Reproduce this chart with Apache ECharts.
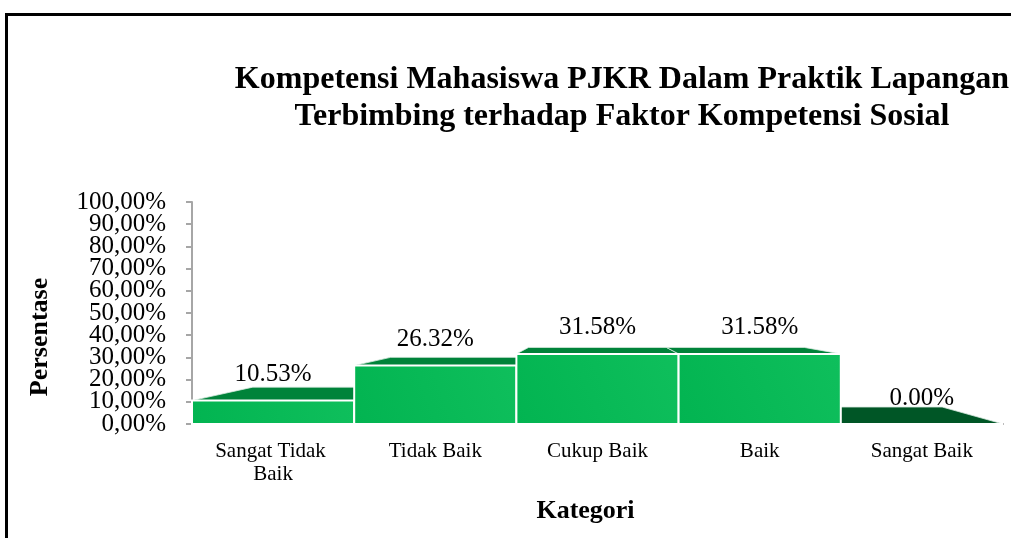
<!DOCTYPE html>
<html>
<head>
<meta charset="utf-8">
<script src="https://cdn.jsdelivr.net/npm/echarts@6/dist/echarts.min.js"></script>
<style>
  html, body { margin: 0; padding: 0; background: #fff; }
  #chart { width: 1011px; height: 538px; }
</style>
</head>
<body>
<div id="chart"></div>
<script>
// data
var categories = ['Sangat Tidak Baik', 'Tidak Baik', 'Cukup Baik', 'Baik', 'Sangat Baik'];
var values = [10.53, 26.32, 31.58, 31.58, 0.00];
var yMin = 0, yMax = 100, yStep = 10;
// tick labels split over two axes so the tight 25px labels are not culled
var yLabelsEven = [0, 20, 40, 60, 80, 100];
var yLabelsOdd = [10, 30, 50, 70, 90];

var serif = 'Liberation Serif, Times New Roman, serif';
var DEPTH = 0.85; // how much the back edge shrinks toward the vanishing point

function renderBar(params, api) {
	var idx = api.value(0);
	var v = api.value(1);
	var p0 = api.coord([idx, 0]);
	var p1 = api.coord([idx, v]);
	var band = api.size([1, 0])[0];
	var x0 = p0[0] - band / 2, x1 = p0[0] + band / 2;
	var yB = p0[1], yT = p1[1];
	var vp = api.coord([2, 51]);
	function back(x, y) {
		return [vp[0] + (x - vp[0]) * DEPTH, vp[1] + (y - vp[1]) * DEPTH];
	}
	var topColor = v === 0 ? '#005626' : '#00833a';
	return {
		type : 'group',
		children : [ {
			type : 'polygon',
			z2 : 1,
			shape : { points : [ [x0, yT], [x1, yT], back(x1, yT), back(x0, yT) ] },
			style : { fill : topColor, stroke : '#d8eadf', lineWidth : 0.8 }
		}, {
			type : 'rect',
			z2 : 10,
			shape : { x : x0, y : yT, width : band, height : yB - yT },
			style : {
				fill : new echarts.graphic.LinearGradient(0, 1, 1, 0, [
					{ offset : 0, color : '#02b451' },
					{ offset : 1, color : '#0fbf5c' } ]),
				stroke : '#ffffff',
				lineWidth : 2
			}
		}, {
			type : 'text',
			z2 : 20,
			style : {
				text : v.toFixed(2) + '%',
				x : p0[0],
				y : yT - 26,
				align : 'center',
				verticalAlign : 'middle',
				font : '25px ' + serif,
				fill : '#000'
			}
		} ]
	};
}

function pctLabel(v) {
	return v.toFixed(2).replace('.', ',') + '%';
}

var yLabelStyle = {
	margin : 26,
	fontFamily : serif,
	fontSize : 25,
	color : '#000',
	formatter : pctLabel
};

var chart = echarts.init(document.getElementById('chart'));
chart.setOption({
	animation : false,
	grid : {
		left : 192,
		right : 8,
		top : 202,
		bottom : 114
	},
	graphic : [ {
		type : 'rect',
		shape : { x : 6.5, y : 14.5, width : 1200, height : 700 },
		style : { fill : 'none', stroke : '#000', lineWidth : 3 }
	}, {
		type : 'text',
		x : 622,
		y : 61,
		style : {
			text : 'Kompetensi Mahasiswa PJKR Dalam Praktik Lapangan\nTerbimbing terhadap Faktor Kompetensi Sosial',
			align : 'center',
			verticalAlign : 'top',
			font : 'bold 32px ' + serif,
			lineHeight : 37,
			fill : '#000'
		}
	}, {
		type : 'text',
		x : 40,
		y : 337,
		rotation : Math.PI / 2,
		style : {
			text : 'Persentase',
			align : 'center',
			verticalAlign : 'middle',
			font : 'bold 26px ' + serif,
			fill : '#000'
		}
	} ],
	xAxis : {
		type : 'category',
		data : categories,
		name : 'Kategori',
		nameLocation : 'middle',
		nameGap : 74,
		nameTextStyle : {
			fontFamily : serif,
			fontSize : 26,
			fontWeight : 'bold',
			color : '#000',
			padding : [0, 24, 0, 0]
		},
		axisLine : { lineStyle : { color : '#a6a6a6', width : 2 } },
		axisTick : { show : false },
		axisLabel : {
			margin : 16,
			fontFamily : serif,
			fontSize : 21,
			color : '#000',
			width : 135,
			overflow : 'break',
			lineHeight : 23,
			interval : 0
		}
	},
	yAxis : [ {
		type : 'value',
		position : 'left',
		min : yMin,
		max : yMax,
		interval : yStep,
		axisLine : { show : true, lineStyle : { color : '#a6a6a6', width : 2 } },
		axisTick : { show : true, length : 6, lineStyle : { color : '#a6a6a6', width : 2 } },
		splitLine : { show : false },
		axisLabel : Object.assign({ customValues : yLabelsEven }, yLabelStyle)
	}, {
		type : 'value',
		position : 'left',
		offset : 0,
		min : yMin,
		max : yMax,
		interval : yStep,
		axisLine : { show : false },
		axisTick : { show : false },
		splitLine : { show : false },
		axisLabel : Object.assign({ customValues : yLabelsOdd }, yLabelStyle)
	} ],
	series : [ {
		type : 'custom',
		renderItem : renderBar,
		data : values.map(function (v, i) { return [i, v]; }),
		z : 3
	} ]
});
</script>
</body>
</html>
